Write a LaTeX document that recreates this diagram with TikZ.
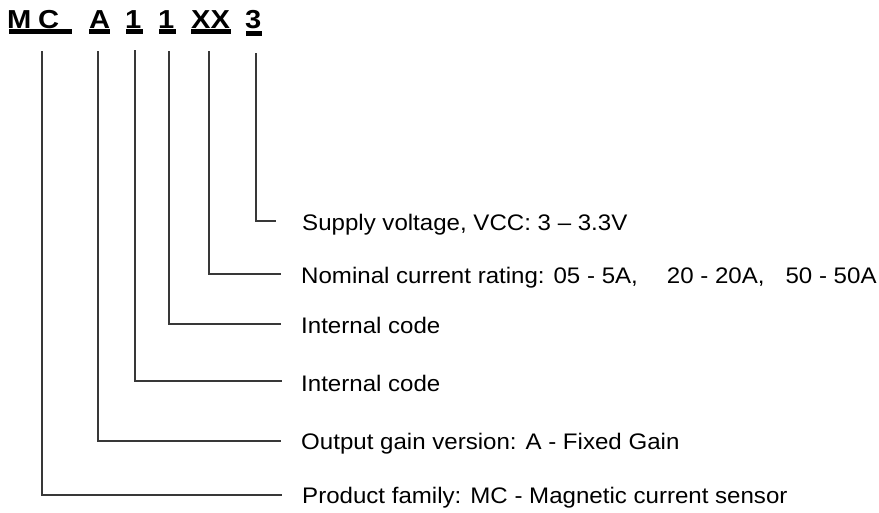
\documentclass[tikz,border=0pt]{standalone}
\usepackage{fontspec}
\setmainfont{Liberation Sans}
\newfontfamily\bodyfont[FakeStretch=1.07]{Liberation Sans}
\newfontfamily\headfont[FakeStretch=1.12]{Liberation Sans Bold}
\begin{document}
\begin{tikzpicture}[x=1pt,y=-1pt]
\tikzset{
  ln/.style={line width=1.4pt, draw=black!78},
  lbl/.style={anchor=base west, inner sep=0pt, font=\bodyfont\fontsize{22.5}{27}\selectfont},
  hd/.style={anchor=base west, inner sep=0pt, font=\headfont\fontsize{26}{30}\selectfont},
  ul/.style={fill=black, draw=none}
}
\fill[white] (0,0) rectangle (879,512);
\useasboundingbox (0,0) rectangle (879,512);
% heading
\node[hd] (hM) at (7,28.5) {M};
\node[hd] (hC) at (38,28.5) {C};
\node[hd] (hA) at (89,28.5) {A};
\node[hd] (h1a) at (125,28.5) {1};
\node[hd] (h1b) at (158,28.5) {1};
\node[hd] (hX) at (191,28.5) {XX};
\node[hd] (h3) at (245,28.5) {3};
\fill[ul] (9,29.3) rectangle (72,33.5);
\fill[ul] (89,29.3) rectangle (110,33.5);
\fill[ul] (126,29.3) rectangle (143,33.5);
\fill[ul] (159,29.3) rectangle (176,33.5);
\fill[ul] (191,29.3) rectangle (231,33.5);
\fill[ul] (246,31) rectangle (262,35.5);
% line tops
\coordinate (t1) at (42,51);
\coordinate (t2) at (98,51);
\coordinate (t3) at (135,50);
\coordinate (t4) at (169,51);
\coordinate (t5) at (209,51);
\coordinate (t6) at (256,53);
% line ends
\coordinate (e6) at (276,221);
\coordinate (e5) at (281,274);
\coordinate (e4) at (281,324);
\coordinate (e3) at (282,381);
\coordinate (e2) at (281,441);
\coordinate (e1) at (282,495);
\draw[ln] (t6) |- (e6);
\draw[ln] (t5) |- (e5);
\draw[ln] (t4) |- (e4);
\draw[ln] (t3) |- (e3);
\draw[ln] (t2) |- (e2);
\draw[ln] (t1) |- (e1);
% labels
\node[lbl] (l6) at (302,230) {Supply voltage, VCC: 3 – 3.3V};
\node[lbl] (l5) at (301,283) {Nominal current rating: 05 - 5A,\hspace{29pt}20 - 20A,\hspace{21pt}50 - 50A};
\node[lbl] (l4) at (301,333) {Internal code};
\node[lbl] (l3) at (301,391) {Internal code};
\node[lbl] (l2) at (301,449) {Output gain version: A - Fixed Gain};
\node[lbl] (l1) at (302,503) {Product family:\hspace{9pt}MC - Magnetic current sensor};
\end{tikzpicture}
\end{document}
